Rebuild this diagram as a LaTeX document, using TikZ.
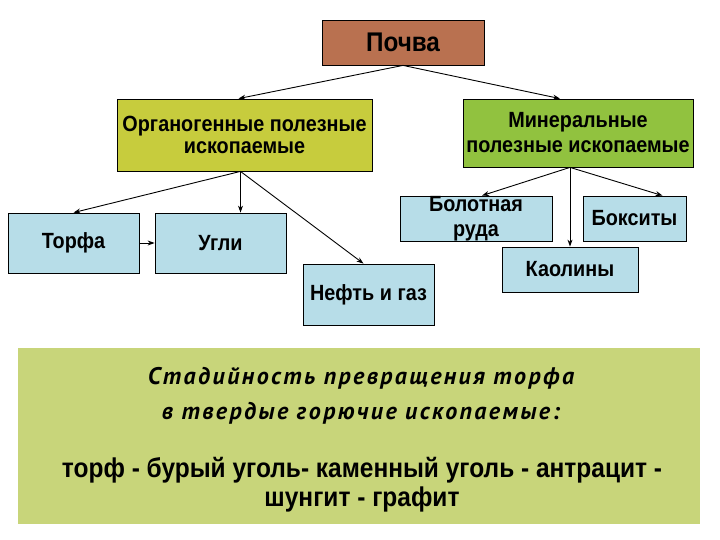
\documentclass[tikz,border=0pt]{standalone}
\usepackage{fontspec}
\setmainfont{Liberation Sans}[FakeStretch=0.9]
\newfontfamily\stagefont{PT Sans}[LetterSpace=10]
\usetikzlibrary{arrows.meta}

\definecolor{soilbrown}{RGB}{185,113,80}
\definecolor{organgreen}{RGB}{199,204,61}
\definecolor{minergreen}{RGB}{145,194,63}
\definecolor{leafblue}{RGB}{183,221,232}
\definecolor{stagegreen}{RGB}{200,213,122}

\begin{document}
\begin{tikzpicture}[x=1pt,y=-1pt,line width=0.9pt,
  box/.style={draw=black, line width=0.8pt, inner sep=0pt, align=center,
    font=\fontsize{22}{25}\bfseries\selectfont},
  leaf/.style={box, fill=leafblue},
  link/.style={-{Stealth[length=7pt,width=5pt]}, line width=0.9pt}]

\useasboundingbox (0,0) rectangle (720,540);

% top level
\node[box, fill=soilbrown, minimum width=162pt, minimum height=45pt,
  font=\fontsize{27}{27}\bfseries\selectfont] (pochva) at (403,42.5) {Почва};
\node[box, fill=organgreen, minimum width=255pt, minimum height=72pt,
  font=\fontsize{22}{22}\bfseries\selectfont] (organ) at (244.5,135) {Органогенные полезные\\ископаемые};
\node[box, fill=minergreen, minimum width=230pt, minimum height=68pt] (miner) at (578,133) {Минеральные\\полезные ископаемые};

% organogenic branch
\node[leaf, minimum width=131pt, minimum height=60pt] (torf) at (73.5,243) {Торфа};
\node[leaf, minimum width=131pt, minimum height=60pt] (ugli) at (220.5,243) {Угли};
\node[leaf, minimum width=131pt, minimum height=61pt] (neft) at (368.5,294.5) {Нефть и газ};

% mineral branch
\node[leaf, minimum width=152pt, minimum height=45pt] (bolot) at (476,218.5) {Болотная\\руда};
\node[leaf, minimum width=103pt, minimum height=45pt] (boksit) at (634.5,218.5) {Бокситы};
\node[leaf, minimum width=136pt, minimum height=45pt] (kaolin) at (570,269.5) {Каолины};

% stages of peat
\node[fill=stagegreen, inner sep=0pt, minimum width=682pt, minimum height=176pt] (stadii) at (359,436) {};
\node[align=center, font=\stagefont\fontsize{24}{35}\bfseries\itshape\selectfont] (stadtitle) at (361,395.5)
  {Стадийность превращения торфа\\в твердые горючие ископаемые:};
\node[align=center, font=\fontsize{27.2}{29}\bfseries\selectfont] (stadchain) at (362,484.5)
  {торф - бурый уголь- каменный уголь - антрацит -\\шунгит - графит};

\draw[link] (pochva.south) -- ([xshift=-6pt]organ.north);
\draw[link] (pochva.south) -- ([xshift=-18pt]miner.north);

\draw[link] ([xshift=-4pt]organ.south) -- (torf.north);
\draw[link] ([xshift=-4pt]organ.south) -- ([xshift=20pt]ugli.north);
\draw[link] ([xshift=-4pt]organ.south) -- ([xshift=-5pt]neft.north);
\draw[link] (torf.east) -- (ugli.west);

\draw[link] ([xshift=-8pt]miner.south) -- ([xshift=6pt]bolot.north);
\draw[link] ([xshift=-8pt]miner.south) -- ([xshift=28pt]boksit.north);
\draw[link] ([xshift=-8pt]miner.south) -- (kaolin.north);

\end{tikzpicture}
\end{document}
